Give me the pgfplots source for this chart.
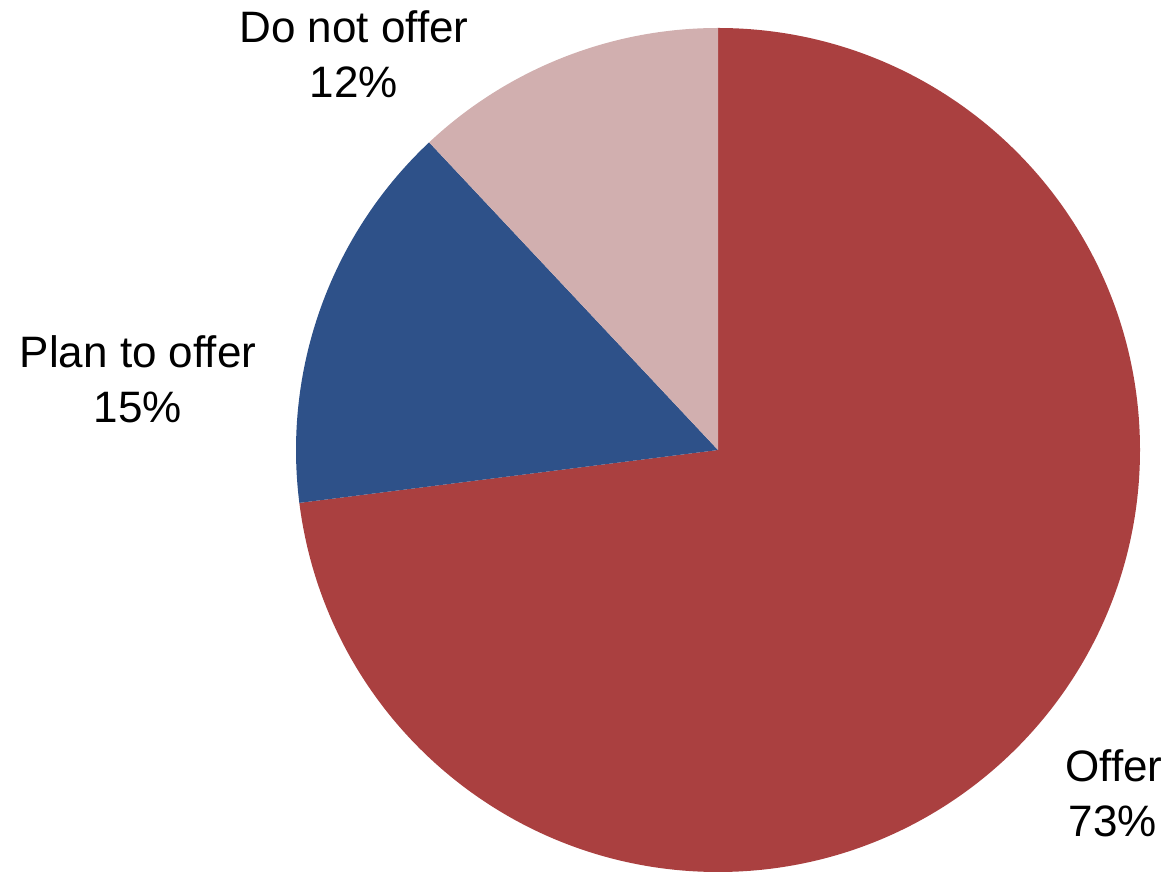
\documentclass[border=0pt]{standalone}
\usepackage{pgfplots}
\pgfplotsset{compat=1.18}
\usepackage{pgfplotstable}
\usepackage{fontspec}
\setmainfont{Liberation Sans}
\definecolor{cOffer}{HTML}{AA4040}
\definecolor{cPlan}{HTML}{2E5189}
\definecolor{cNot}{HTML}{D1AFAF}
\pgfplotstableread{
label value
Offer 73
Plan 15
NotOffer 12
}\piedata
\begin{document}%
\begin{tikzpicture}
\pgfplotstablegetelem{0}{value}\of\piedata \let\vA\pgfplotsretval
\pgfplotstablegetelem{1}{value}\of\piedata \let\vB\pgfplotsretval
\pgfplotstablegetelem{2}{value}\of\piedata \let\vC\pgfplotsretval
\pgfmathsetmacro\aA{90-3.6*\vA}
\pgfmathsetmacro\aB{\aA-3.6*\vB}
\pgfmathsetmacro\aC{\aB-3.6*\vC}
\begin{axis}[scale only axis, width=584pt, height=435.5pt,
  xmin=0, xmax=1168, ymin=0, ymax=871, hide axis, clip=false]
\path (axis cs:0,0) rectangle (axis cs:1168,871);
\fill[cOffer] (axis cs:718,421) -- ++(90:211pt) arc[start angle=90, end angle=\aA, radius=211pt] -- cycle;
\fill[cPlan] (axis cs:718,421) -- ++(\aA:211pt) arc[start angle=\aA, end angle=\aB, radius=211pt] -- cycle;
\fill[cNot] (axis cs:718,421) -- ++(\aB:211pt) arc[start angle=\aB, end angle=\aC, radius=211pt] -- cycle;
\tikzset{lab/.style={anchor=base, inner sep=0pt, font=\fontsize{22}{27}\selectfont}}
\node[lab] at (axis cs:354,828) {Do not offer};
\node[lab] at (axis cs:354,773) {12\%};
\node[lab] at (axis cs:138,503) {Plan to offer};
\node[lab] at (axis cs:138,448) {15\%};
\node[lab] at (axis cs:1114,89) {Offer};
\node[lab] at (axis cs:1113,34) {73\%};
\end{axis}
\end{tikzpicture}%
\end{document}
